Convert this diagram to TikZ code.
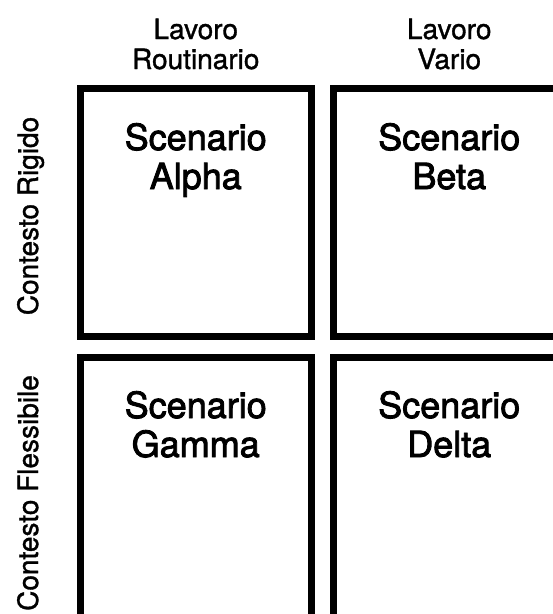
\documentclass[tikz,border=0pt]{standalone}
\usepackage{fontspec}
\setmainfont{TeX Gyre Heros}
\usetikzlibrary{positioning}

\begin{document}
\begin{tikzpicture}[
        x=1pt, y=-1pt,
        cell/.style={draw=black, line width=7pt, minimum width=231.5pt, inner sep=0pt},
        head/.style={align=center, anchor=base, inner sep=0pt, font=\fontsize{28}{30}\selectfont\addfontfeature{FakeBold=1.2}},
        side/.style={anchor=base, rotate=90, inner sep=0pt, font=\fontsize{28}{30}\selectfont\addfontfeature{FakeBold=1.2}},
        title/.style={align=center, anchor=base, inner sep=0pt, font=\fontsize{36}{39}\selectfont\addfontfeature{FakeBold=2.4}}
    ]
        \useasboundingbox (0,0) rectangle (553,614);
        \clip (0,0) rectangle (553,614);

        \node[cell, minimum height=248pt] (alpha) at (195.75,212.5) {};
        \node[cell, minimum height=248pt] (beta) at (449.25,212.5) {};
        \node[cell, minimum height=300pt] (gamma) at (195.75,507) {};
        \node[cell, minimum height=300pt] (delta) at (449.25,507) {};

        \node[head] (routine) at (195.75,69) {Lavoro\\Routinario};
        \node[head] (varied) at (449.25,69) {Lavoro\\Vario};

        \node[side] (rigid) at (38,216) {Contesto Rigido};
        \node[side] (flexible) at (38,493) {Contesto Flessibile};

        \node[title] (alphatxt) at (195.75,189) {Scenario\\Alpha};
        \node[title] (betatxt) at (449.25,189) {Scenario\\Beta};
        \node[title] (gammatxt) at (195.75,457) {Scenario\\Gamma};
        \node[title] (deltatxt) at (449.25,457) {Scenario\\Delta};
\end{tikzpicture}
\end{document}
